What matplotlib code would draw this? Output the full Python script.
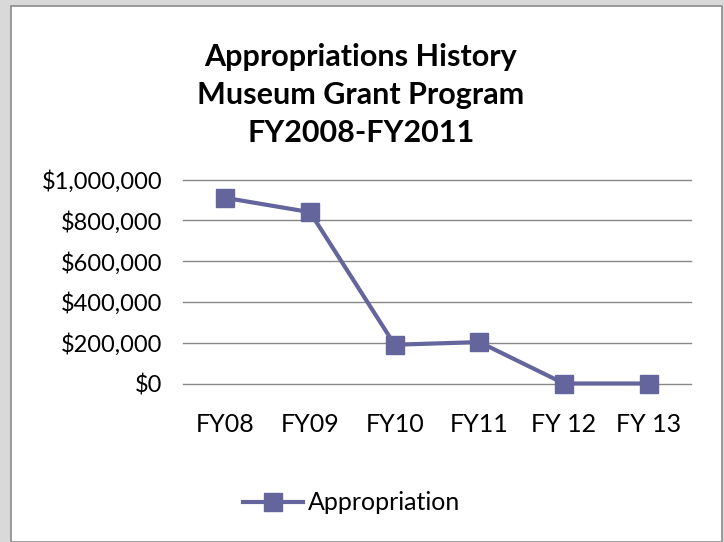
import matplotlib
matplotlib.use("Agg")
import matplotlib.pyplot as plt
from matplotlib.patches import Rectangle
from matplotlib.ticker import FuncFormatter

categories = ["FY08", "FY09", "FY10", "FY11", "FY 12", "FY 13"]
appropriation = [910000, 840000, 190000, 203000, 0, 0]
y_ticks = [0, 200000, 400000, 600000, 800000, 1000000]
series_name = "Appropriation"
title = "Appropriations History\nMuseum Grant Program\nFY2008-FY2011"

W, H = 724, 542
DPI = 100
plt.rcParams['font.family'] = ['Lato', 'DejaVu Sans']

fig = plt.figure(figsize=(W / DPI, H / DPI), dpi=DPI)
fig.patch.set_facecolor('#d9d9d9')

fig.patches.append(Rectangle((11 / W, 0), (722 - 11) / W, (542 - 6) / H,
                             transform=fig.transFigure, facecolor='white',
                             edgecolor='#8c8c8c', linewidth=1.2, zorder=-10))

left, right = 183 / W, 691 / W
top, bottom = 1 - 179.5 / H, 1 - 383.5 / H
ax = fig.add_axes([left, bottom, right - left, top - bottom])
ax.set_facecolor('none')

color = '#64659c'
x = list(range(len(categories)))
ax.plot(x, appropriation, color=color, linewidth=3.0, marker='s', markersize=13,
        markerfacecolor=color, markeredgecolor=color, clip_on=False, zorder=3,
        label=series_name)

ax.set_xlim(-0.5, len(categories) - 0.5)
ax.set_ylim(0, 1000000)
ax.set_yticks(y_ticks)
ax.yaxis.set_major_formatter(FuncFormatter(lambda v, p: "${:,.0f}".format(v)))
ax.set_xticks(x)
ax.set_xticklabels(categories)
ax.grid(axis='y', color='#888888', linewidth=1.0)
for gl in ax.get_ygridlines():
    gl.set_clip_on(False)
ax.set_axisbelow(True)
for s in ax.spines.values():
    s.set_visible(False)
ax.tick_params(axis='both', length=0, colors='black')
ax.tick_params(axis='y', pad=15, labelsize=17)
ax.tick_params(axis='x', pad=21, labelsize=18)

fig.text(361 / W, 1 - 95 / H, title, ha='center', va='center', fontsize=22,
         fontweight='bold', linespacing=1.42)

leg = fig.legend(loc='center', bbox_to_anchor=(352 / W, 1 - 503 / H), frameon=False,
                 fontsize=18, handlelength=2.4, handletextpad=0.2, markerscale=1.0)

fig.savefig("out.png", dpi=DPI, facecolor=fig.get_facecolor())
